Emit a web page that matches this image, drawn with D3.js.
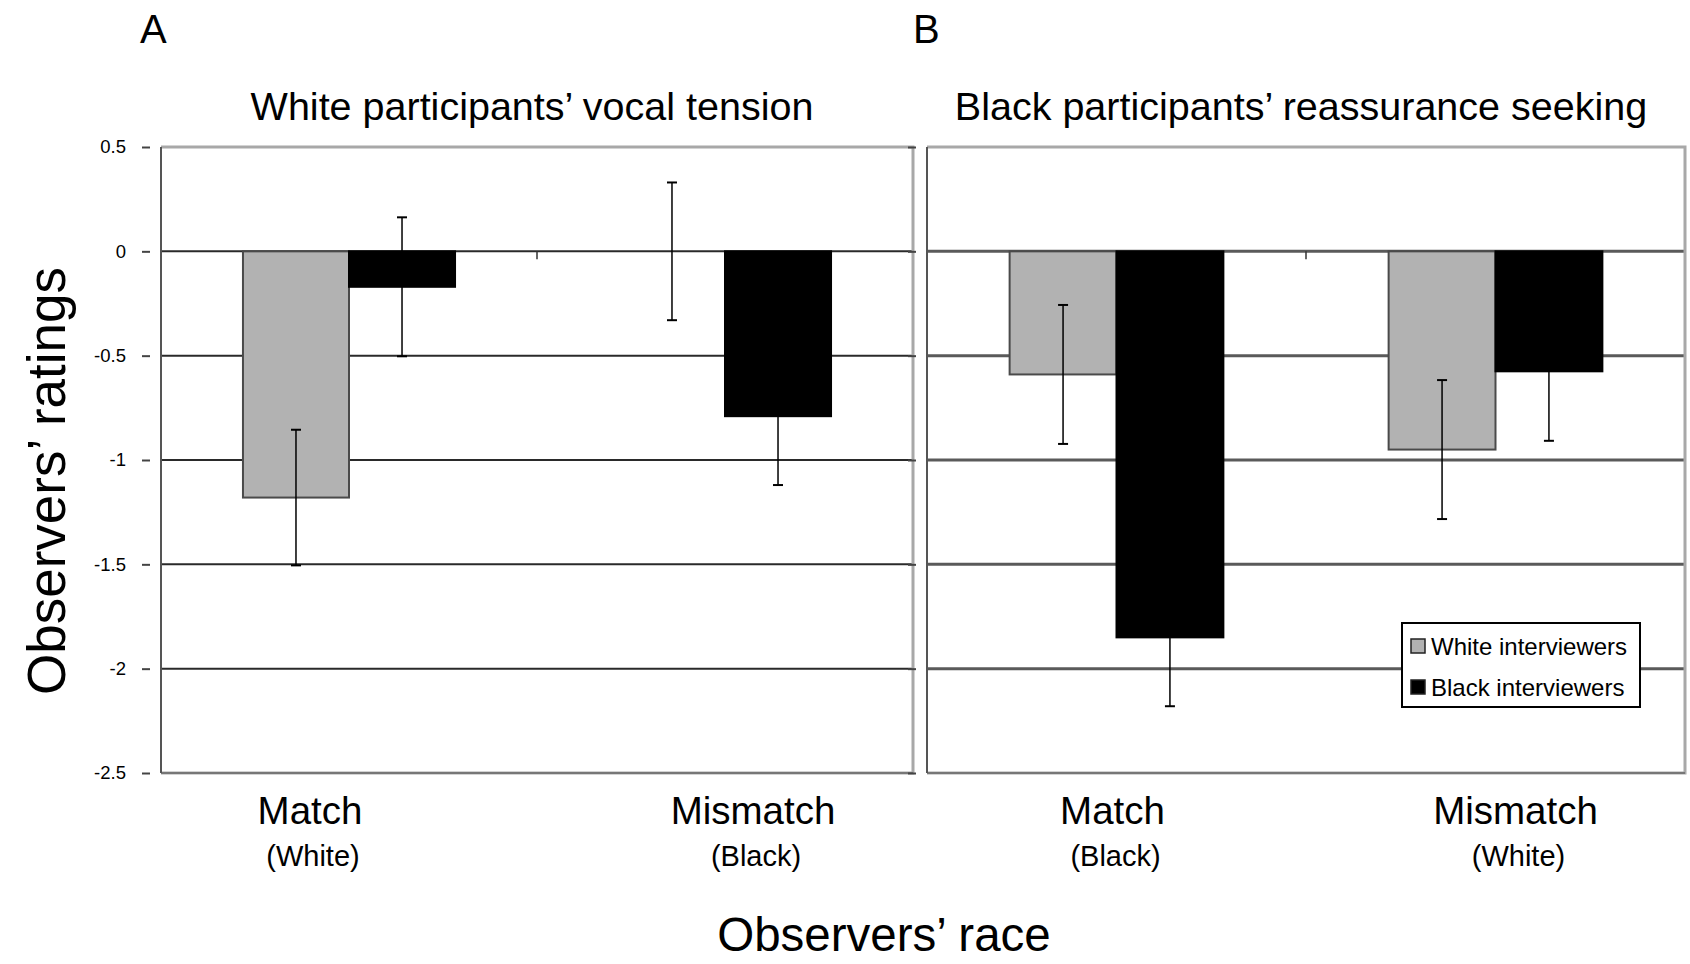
<!DOCTYPE html>
<html>
<head>
<meta charset="utf-8">
<script src="https://cdn.jsdelivr.net/npm/d3@7"></script>
<style>
	body { margin: 0; background: #fff; }
	svg text { font-family: "Liberation Sans", Arial, Helvetica, sans-serif; fill: #000; }
</style>
</head>
<body>
<svg id="chart" width="1690" height="964"></svg>
<script>
// data
var categories = ["Match", "Mismatch"];
var series = ["White interviewers", "Black interviewers"];
var yTicks = [0.5, 0, -0.5, -1, -1.5, -2, -2.5];
var yTickLabels = ["0.5", "0", "-0.5", "-1", "-1.5", "-2", "-2.5"];

var titleA = "White participants\u2019 vocal tension";
var subLabelsA = ["(White)", "(Black)"];
var whiteA = [-1.18, 0.0];
var blackA = [-0.17, -0.79];
var whiteErrA = [0.325, 0.33];
var blackErrA = [0.333, 0.33];

var titleB = "Black participants\u2019 reassurance seeking";
var subLabelsB = ["(Black)", "(White)"];
var whiteB = [-0.59, -0.95];
var blackB = [-1.85, -0.575];
var whiteErrB = [0.333, 0.333];
var blackErrB = [0.33, 0.333];

var colors = ["#b2b2b2", "#000000"];

var svg = d3.select("#chart"),
	plotTop = 147,
	plotBottom = 773;

var y = d3.scaleLinear().domain([-2.5, 0.5]).range([plotBottom, plotTop]);

function drawPanel(opt) {
	var g = svg.append("g");

	var x = d3.scaleBand()
		.domain(categories)
		.range([opt.left, opt.right])
		.paddingInner(0.436)
		.paddingOuter(0.218);

	var xs = d3.scaleBand().domain(series).range([0, x.bandwidth()]);

	var rows = [];
	categories.forEach(function (c, i) {
		rows.push({cat: c, s: series[0], v: opt.white[i], e: opt.whiteErr[i], col: colors[0]});
		rows.push({cat: c, s: series[1], v: opt.black[i], e: opt.blackErr[i], col: colors[1]});
	});

	// gridlines
	g.selectAll(".grid")
		.data(yTicks.filter(function (t) { return t < 0.5 && t > -2.5; }))
		.enter().append("line")
		.attr("x1", opt.left).attr("x2", opt.right)
		.attr("y1", function (d) { return y(d); })
		.attr("y2", function (d) { return y(d); })
		.attr("stroke", opt.gridColor)
		.attr("stroke-width", opt.gridWidth);

	// bars
	g.selectAll(".bar")
		.data(rows)
		.enter().append("rect")
		.attr("x", function (d) { return x(d.cat) + xs(d.s); })
		.attr("width", xs.bandwidth())
		.attr("y", function (d) { return Math.min(y(0), y(d.v)); })
		.attr("height", function (d) { return Math.abs(y(d.v) - y(0)); })
		.attr("fill", function (d) { return d.col; })
		.attr("stroke", function (d) { return d.col === colors[0] ? "#4a4a4a" : "#000"; })
		.attr("stroke-width", 2);

	// error bars
	var eb = g.selectAll(".err").data(rows).enter().append("g");
	var cx = function (d) { return x(d.cat) + xs(d.s) + xs.bandwidth() / 2; };
	eb.append("line")
		.attr("x1", cx).attr("x2", cx)
		.attr("y1", function (d) { return y(d.v + d.e); })
		.attr("y2", function (d) { return y(d.v - d.e); })
		.attr("stroke", "#000").attr("stroke-width", 1.5);
	[1, -1].forEach(function (sgn) {
		eb.append("line")
			.attr("x1", function (d) { return cx(d) - 5; })
			.attr("x2", function (d) { return cx(d) + 5; })
			.attr("y1", function (d) { return y(d.v + sgn * d.e); })
			.attr("y2", function (d) { return y(d.v + sgn * d.e); })
			.attr("stroke", "#000").attr("stroke-width", 2);
	});

	// category separator tick on the zero line
	var sep = (x(categories[0]) + x.bandwidth() + x(categories[1])) / 2;
	g.append("line")
		.attr("x1", sep).attr("x2", sep)
		.attr("y1", y(0)).attr("y2", y(0) + 8)
		.attr("stroke", "#333").attr("stroke-width", 1.5);

	// frame
	g.append("path")
		.attr("d", "M" + opt.left + "," + plotTop + "H" + opt.right + "V" + plotBottom + "H" + opt.left)
		.attr("fill", "none")
		.attr("stroke", "#a8a8a8")
		.attr("stroke-width", 3);
	g.append("line")
		.attr("x1", opt.left).attr("x2", opt.right)
		.attr("y1", plotBottom).attr("y2", plotBottom)
		.attr("stroke", "#777").attr("stroke-width", 2);

	// left axis
	var axis = g.append("g")
		.attr("transform", "translate(" + (opt.left - 11) + ",0)")
		.call(d3.axisLeft(y)
			.tickValues(yTicks)
			.tickSize(8)
			.tickPadding(opt.showLabels ? 16 : 0)
			.tickFormat(function (d, i) { return opt.showLabels ? yTickLabels[i] : ""; }));
	axis.select(".domain").remove();
	axis.selectAll(".tick line").attr("stroke", "#444").attr("stroke-width", 2);
	axis.selectAll(".tick text")
		.style("font-size", "18.5px")
		.attr("fill", "#000");
	g.append("line")
		.attr("x1", opt.left).attr("x2", opt.left)
		.attr("y1", plotTop).attr("y2", plotBottom)
		.attr("stroke", "#555").attr("stroke-width", 2);

	// panel letter and title
	g.append("text")
		.attr("x", opt.letterX).attr("y", 43)
		.style("font-size", "40px")
		.text(opt.letter);
	g.append("text")
		.attr("x", (opt.left + opt.right) / 2 - 5).attr("y", 120)
		.attr("text-anchor", "middle")
		.style("font-size", "39.5px")
		.text(opt.title);

	// category labels
	categories.forEach(function (c, i) {
		var cxl = x(c) + x.bandwidth() / 2 + opt.labelShift[i];
		g.append("text")
			.attr("x", cxl).attr("y", 824)
			.attr("text-anchor", "middle")
			.style("font-size", "38.5px")
			.text(c);
		g.append("text")
			.attr("x", cxl + 3).attr("y", 866)
			.attr("text-anchor", "middle")
			.style("font-size", "29px")
			.text(opt.subLabels[i]);
	});
}

drawPanel({
	left: 161, right: 913, letter: "A", letterX: 140, title: titleA,
	white: whiteA, black: blackA, whiteErr: whiteErrA, blackErr: blackErrA,
	subLabels: subLabelsA, labelShift: [-39, 28],
	gridColor: "#2a2a2a", gridWidth: 2, showLabels: true
});

drawPanel({
	left: 927, right: 1685, letter: "B", letterX: 913, title: titleB,
	white: whiteB, black: blackB, whiteErr: whiteErrB, blackErr: blackErrB,
	subLabels: subLabelsB, labelShift: [-4, 20],
	gridColor: "#5a5a5a", gridWidth: 3, showLabels: false
});

// axis titles
svg.append("text")
	.attr("transform", "translate(65,481) rotate(-90)")
	.attr("text-anchor", "middle")
	.style("font-size", "53px")
	.text("Observers\u2019 ratings");

svg.append("text")
	.attr("x", 884).attr("y", 951)
	.attr("text-anchor", "middle")
	.style("font-size", "47.5px")
	.text("Observers\u2019 race");

// legend
var legend = svg.append("g").attr("transform", "translate(1402,623)");
legend.append("rect")
	.attr("width", 238).attr("height", 84)
	.attr("fill", "#fff").attr("stroke", "#000").attr("stroke-width", 2);
series.forEach(function (s, i) {
	var row = legend.append("g").attr("transform", "translate(9," + (23 + i * 41) + ")");
	row.append("rect")
		.attr("y", -7).attr("width", 14).attr("height", 14)
		.attr("fill", colors[i]).attr("stroke", "#222").attr("stroke-width", 1.5);
	row.append("text")
		.attr("x", 20).attr("dy", "0.36em")
		.style("font-size", "24px")
		.text(s);
});
</script>
</body>
</html>
